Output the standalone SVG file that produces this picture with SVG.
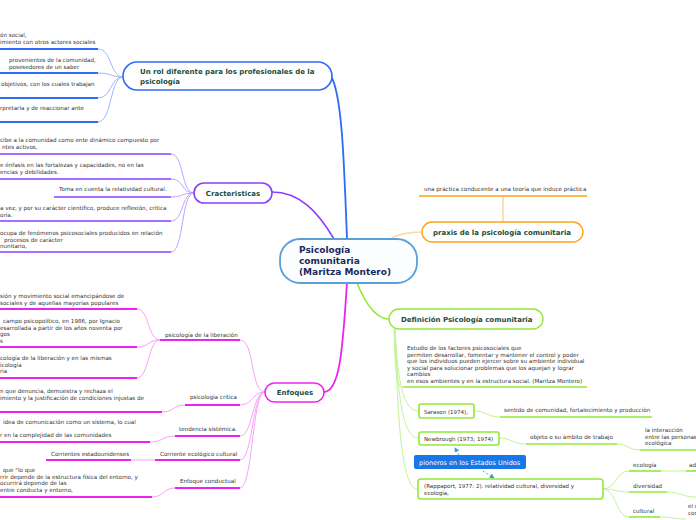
<svg xmlns="http://www.w3.org/2000/svg" width="696" height="520" viewBox="0 0 696 520">
<defs>
<marker id="arr" viewBox="0 0 6 6" refX="5" refY="3" markerWidth="5" markerHeight="5" orient="auto"><path d="M0,0 L6,3 L0,6 z" fill="#3d96e0"/></marker>
<style>
text{font-family:"DejaVu Sans","Liberation Sans",sans-serif;}
.leaf{font-size:5.6px;fill:#333;}
.title{font-size:7px;font-weight:bold;fill:#1d4d3c;}
.box{font-size:5.5px;fill:#333;}
.blue{stroke:#2f6bf5;stroke-width:1.8;fill:none;}
.lblue{stroke:#9db6ff;stroke-width:1;fill:none;}
.purp{stroke:#8a3ffc;stroke-width:1.6;fill:none;}
.lpurp{stroke:#bea2ff;stroke-width:1;fill:none;}
.mag{stroke:#ee22ee;stroke-width:1.8;fill:none;}
.lmag{stroke:#f8a2f8;stroke-width:1;fill:none;}
.grn{stroke:#92e838;stroke-width:1.6;fill:none;}
.lgrn{stroke:#c4f29a;stroke-width:1;fill:none;}
.org{stroke:#ffa21a;stroke-width:1.6;fill:none;}
.lorg{stroke:#fdd79c;stroke-width:1.5;fill:none;}
</style>
</defs>
<rect width="696" height="520" fill="#ffffff"/>
<g id="connectors">
<path class="blue" d="M347,239 C344,160 342,95 331,76"/>
<path class="lblue" d="M123,77 C110,77 112,49 98,49"/>
<path class="lblue" d="M123,77 C110,77 112,73 98,73"/>
<path class="lblue" d="M123,77 C110,77 112,98 98,98"/>
<path class="lblue" d="M123,77 C110,77 112,122 98,122"/>
<path class="purp" d="M334,239 C318,212 300,192 272,192"/>
<path class="lpurp" d="M194,193 C181,193 184,154 171,154"/>
<path class="lpurp" d="M194,193 C181,193 184,179 171,179"/>
<path class="lpurp" d="M194,193 C181,193 184,197 171,197"/>
<path class="lpurp" d="M194,193 C181,193 184,221 171,221"/>
<path class="lpurp" d="M194,193 C181,193 184,252 171,252"/>
<path class="mag" d="M347,283 C343,340 341,392 324,392"/>
<path class="lmag" d="M265,392 C250,392 255,340 240,340"/>
<path class="lmag" d="M265,392 C252,392 253,405 240,405"/>
<path class="lmag" d="M265,392 C252,392 253,436 240,436"/>
<path class="lmag" d="M265,392 C252,392 253,460 240,460"/>
<path class="lmag" d="M265,392 C252,392 253,488 240,488"/>
<path class="lmag" d="M160,340 C148,340 149,309 137,309"/>
<path class="lmag" d="M160,340 C148,340 149,347 137,347"/>
<path class="lmag" d="M160,340 C148,340 149,378 137,378"/>
<path class="lmag" d="M185,405 C173,405 174,412 162,412"/>
<path class="lmag" d="M175,436 C162,436 163,442 150,442"/>
<path class="lmag" d="M155,460 L131,460"/>
<path class="lmag" d="M175,488 C163,488 164,497 152,497"/>
<path class="lorg" d="M390,239 C400,233 410,232 422,232"/>
<path class="lorg" d="M503,196 L503,222" stroke-width="2"/>
<path class="grn" d="M357,283 C366,305 376,319 389,319"/>
<path class="lgrn" d="M394,329 C395,370 396,387 403,387"/>
<path class="lgrn" d="M395,329 C398,390 405,411 419,411"/>
<path class="lgrn" d="M395,329 C398,410 405,438 419,438"/>
<path class="lgrn" d="M395,329 C398,450 405,489 418,489"/>
<path class="lgrn" d="M474,411 C487,411 487,417 500,417"/>
<path class="lgrn" d="M499,438 C512,438 512,444 526,444"/>
<path class="lgrn" d="M617,444 C628,444 628,450 640,450"/>
<path class="lgrn" d="M603,489 C616,489 616,471 629,471"/>
<path class="lgrn" d="M603,489 C616,489 616,492 629,492"/>
<path class="lgrn" d="M603,489 C616,489 616,517 629,517"/>
<path class="lgrn" d="M661,471 L686,471"/>
<path class="lgrn" d="M667,492 C680,492 683,497 696,497"/>
<path class="lgrn" d="M660,517 C672,517 675,519 686,519"/>
<path d="M459,455 L455,448" stroke="#5aa8e8" stroke-width="1" stroke-dasharray="2,2" fill="none" marker-end="url(#arr)"/>
<path d="M483,471 L494,478" stroke="#5aa8e8" stroke-width="1" stroke-dasharray="2,2" fill="none" marker-end="url(#arr)"/>
</g>
<g id="central">
<rect x="280" y="239" width="137" height="44" rx="20" fill="#fbfdff" stroke="#5aa0d8" stroke-width="1.8"/>
<text x="299" y="253" font-size="9" font-weight="bold" fill="#1a2a5a">Psicología</text>
<text x="299" y="264" font-size="9" font-weight="bold" fill="#1a2a5a">comunitaria</text>
<text x="299" y="275" font-size="9" font-weight="bold" fill="#1a2a5a">(Maritza Montero)</text>
</g>
<g id="rol">
<rect x="123" y="62" width="209" height="28" rx="14" fill="#fff" stroke="#2f6bf5" stroke-width="1.6"/>
<text class="title" x="140" y="74">Un rol diferente para los profesionales de la</text>
<text class="title" x="140" y="83.5">psicología</text>
</g>
<g id="rol-leaves">
<text class="leaf" x="0" y="37">ón social,</text>
<text class="leaf" x="0" y="44">imiento con otros actores sociales</text>
<line class="blue" x1="0" y1="49" x2="98" y2="49"/>
<text class="leaf" x="9" y="62">provenientes de la comunidad,</text>
<text class="leaf" x="9" y="68.5">posesedores de un saber</text>
<line class="blue" x1="0" y1="73" x2="98" y2="73"/>
<text class="leaf" x="1" y="86">objetivos, con los cuales trabajan</text>
<line class="blue" x1="0" y1="98" x2="98" y2="98"/>
<text class="leaf" x="0" y="110">rpretarla y de reaccionar ante</text>
<line class="blue" x1="0" y1="122" x2="98" y2="122"/>
</g>
<g id="caracteristicas">
<rect x="194" y="183" width="78" height="20" rx="10" fill="#fff" stroke="#8a3ffc" stroke-width="1.6"/>
<text class="title" x="233" y="196" text-anchor="middle">Cracteristicas</text>
</g>
<g id="caracteristicas-leaves">
<text class="leaf" x="0" y="142">cibe a la comunidad como ente dinámico compuesto por</text>
<text class="leaf" x="2" y="149">ntes activos,</text>
<line class="purp" x1="0" y1="154" x2="171" y2="154"/>
<text class="leaf" x="0" y="167">e énfasis en las fortalezas y capacidades, no en las</text>
<text class="leaf" x="0" y="174">encias y debilidades.</text>
<line class="purp" x1="0" y1="179" x2="171" y2="179"/>
<text class="leaf" x="59" y="191">Toma en cuenta la relatividad cultural.</text>
<line class="purp" x1="54" y1="197" x2="171" y2="197"/>
<text class="leaf" x="0" y="210">a vez, y por su carácter científico, produce reflexión, crítica</text>
<text class="leaf" x="0" y="216.5">oría.</text>
<line class="purp" x1="0" y1="221" x2="171" y2="221"/>
<text class="leaf" x="0" y="235">ocupa de fenómenos psicosociales producidos en relación</text>
<text class="leaf" x="4" y="241.5">procesos de carácter</text>
<text class="leaf" x="0" y="248">nunitario,</text>
<line class="purp" x1="0" y1="252" x2="171" y2="252"/>
</g>
<g id="enfoques">
<rect x="265" y="383" width="59" height="19" rx="9.5" fill="#fff" stroke="#ee22ee" stroke-width="1.6"/>
<text class="title" x="295" y="395" text-anchor="middle" font-size="7.2">Enfoques</text>
</g>
<g id="liberacion">
<text class="leaf" x="165" y="337">psicología de la liberación</text>
<line class="mag" x1="160" y1="340" x2="240" y2="340"/>
<text class="leaf" x="0" y="298">sión y movimiento social emancipándose de</text>
<text class="leaf" x="0" y="304.5"> sociales y de aquellas mayorías populares</text>
<line class="mag" x1="0" y1="309" x2="137" y2="309"/>
<text class="leaf" x="3" y="323">campo psicopolítico, en 1986, por Ignacio</text>
<text class="leaf" x="0" y="329.5">esarrollada a partir de los años noventa por</text>
<text class="leaf" x="0" y="336">gos</text>
<text class="leaf" x="0" y="342.5">s</text>
<line class="mag" x1="0" y1="347" x2="137" y2="347"/>
<text class="leaf" x="0" y="360">cología de la liberación y en las mismas</text>
<text class="leaf" x="0" y="366.5">icología</text>
<text class="leaf" x="0" y="373">ria</text>
<line class="mag" x1="0" y1="378" x2="137" y2="378"/>
</g>
<g id="critica">
<text class="leaf" x="190" y="399">psicología crítica</text>
<line class="mag" x1="185" y1="405" x2="240" y2="405"/>
<text class="leaf" x="0" y="393">n que denuncia, demuestra y rechaza el</text>
<text class="leaf" x="0" y="399.5">imiento y la justificación de condiciones injustas de</text>
<line class="mag" x1="0" y1="412" x2="162" y2="412"/>
</g>
<g id="sistemica">
<text class="leaf" x="179" y="431">tendencia sistémica.</text>
<line class="mag" x1="175" y1="436" x2="240" y2="436"/>
<text class="leaf" x="3" y="424">idea de comunicación como un sistema, lo cual</text>
<text class="leaf" x="0" y="437">r en la complejidad de las comunidades</text>
<line class="mag" x1="0" y1="442" x2="150" y2="442"/>
</g>
<g id="ecologico">
<text class="leaf" x="160" y="456">Corriente ecológico cultural</text>
<line class="mag" x1="155" y1="460" x2="240" y2="460"/>
<text class="leaf" x="51" y="456">Corrientes estadounidenses</text>
<line class="mag" x1="46" y1="460" x2="131" y2="460"/>
</g>
<g id="conductual">
<text class="leaf" x="180" y="483">Enfoque conductual</text>
<line class="mag" x1="175" y1="488" x2="240" y2="488"/>
<text class="leaf" x="3" y="472">que "lo que</text>
<text class="leaf" x="0" y="478.5">rrir depende de la estructura física del entorno, y</text>
<text class="leaf" x="0" y="485"> ocurrirá depende de las</text>
<text class="leaf" x="0" y="491.5"> entre conducta y entorno,</text>
<line class="mag" x1="0" y1="497" x2="152" y2="497"/>
</g>
<g id="praxis">
<rect x="422" y="222" width="161" height="20" rx="10" fill="#fff" stroke="#ffa21a" stroke-width="1.4"/>
<text class="title" x="502" y="235" text-anchor="middle">praxis de la psicología comunitaria</text>
</g>
<g id="praxis-leaf">
<text class="leaf" x="424" y="191">una práctica conducente a una teoría que induce práctica</text>
<line class="org" x1="419" y1="196" x2="587" y2="196"/>
</g>
<g id="definicion">
<rect x="389" y="309" width="154" height="20" rx="10" fill="#fff" stroke="#92e838" stroke-width="1.4"/>
<text class="title" x="401" y="322">Definición Psicología comunitaria</text>
</g>
<g id="definicion-leaf">
<text class="leaf" x="407" y="350">Estudio de los factores psicosociales que</text>
<text class="leaf" x="407" y="356.5">permiten desarrollar, fomentar y mantener el control y poder</text>
<text class="leaf" x="407" y="363">que los individuos pueden ejercer sobre su ambiente individual</text>
<text class="leaf" x="407" y="369.5">y social para solucionar problemas que los aquejan y lograr</text>
<text class="leaf" x="407" y="376">cambios</text>
<text class="leaf" x="407" y="382.5">en esos ambientes y en la estructura social. (Maritza Montero)</text>
<line class="grn" x1="403" y1="387" x2="587" y2="387"/>
</g>
<g id="sarason">
<rect x="419" y="404" width="55" height="14" rx="2" fill="#fff" stroke="#92e838" stroke-width="1.6"/>
<text class="box" x="424" y="413.5">Sarason (1974),</text>
<text class="leaf" x="504" y="412">sentido de comunidad, fortalecimiento y producción</text>
<line class="grn" x1="500" y1="417" x2="652" y2="417"/>
</g>
<g id="newbrough">
<rect x="419" y="432" width="80" height="13" rx="2" fill="#fff" stroke="#92e838" stroke-width="1.6"/>
<text class="box" x="424" y="441">Newbrough (1973; 1974)</text>
<text class="leaf" x="530" y="439">objeto o su ámbito de trabajo</text>
<line class="grn" x1="526" y1="444" x2="617" y2="444"/>
<text class="leaf" x="645" y="432">la interacción</text>
<text class="leaf" x="645" y="438.5">entre las personas</text>
<text class="leaf" x="645" y="445">ecológica</text>
<line class="grn" x1="640" y1="450" x2="696" y2="450"/>
</g>
<g id="pioneros">
<rect x="414" y="455" width="112" height="14" rx="2" fill="#1877e6"/>
<text x="419" y="465" font-size="6.5" fill="#ffffff">pioneros en los Estados Unidos</text>
</g>
<g id="rappaport">
<rect x="418" y="479" width="185" height="20" rx="3" fill="#fff" stroke="#92e838" stroke-width="1.6"/>
<text class="box" x="424" y="488">(Rappaport, 1977: 2). relatividad cultural, diversidad y</text>
<text class="box" x="424" y="494.5">ecología,</text>
</g>
<g id="rappaport-leaves">
<text class="leaf" x="633" y="467">ecología</text>
<line class="grn" x1="629" y1="471" x2="661" y2="471"/>
<text class="leaf" x="689" y="467">ad</text>
<line class="grn" x1="686" y1="471" x2="696" y2="471"/>
<text class="leaf" x="633" y="488">diversidad</text>
<line class="grn" x1="629" y1="492" x2="667" y2="492"/>
<text class="leaf" x="633" y="513">cultural</text>
<line class="grn" x1="629" y1="517" x2="660" y2="517"/>
<text class="leaf" x="688" y="508">el c</text>
<text class="leaf" x="688" y="515">cor</text>
</g>
</svg>
